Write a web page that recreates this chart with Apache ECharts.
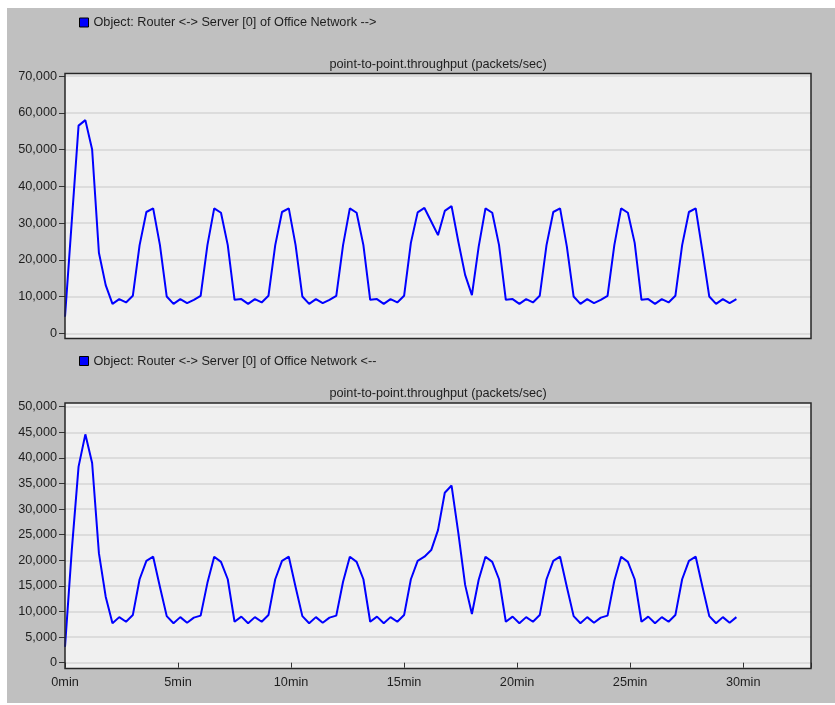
<!DOCTYPE html>
<html>
<head>
<meta charset="utf-8">
<title>point-to-point.throughput</title>
<script src="https://cdn.jsdelivr.net/npm/echarts@6/dist/echarts.min.js"></script>
<style>
  html, body { margin: 0; padding: 0; background: #fff; }
  #chart { width: 835px; height: 705px; }
</style>
</head>
<body>
<div id="chart"></div>
<script>
// sample times (minutes), one sample every 18 s
const timesMin = [
  0, 0.3, 0.6, 0.9, 1.2, 1.5, 1.8, 2.1, 2.4, 2.7,
  3, 3.3, 3.6, 3.9, 4.2, 4.5, 4.8, 5.1, 5.4, 5.7,
  6, 6.3, 6.6, 6.9, 7.2, 7.5, 7.8, 8.1, 8.4, 8.7,
  9, 9.3, 9.6, 9.9, 10.2, 10.5, 10.8, 11.1, 11.4, 11.7,
  12, 12.3, 12.6, 12.9, 13.2, 13.5, 13.8, 14.1, 14.4, 14.7,
  15, 15.3, 15.6, 15.9, 16.2, 16.5, 16.8, 17.1, 17.4, 17.7,
  18, 18.3, 18.6, 18.9, 19.2, 19.5, 19.8, 20.1, 20.4, 20.7,
  21, 21.3, 21.6, 21.9, 22.2, 22.5, 22.8, 23.1, 23.4, 23.7,
  24, 24.3, 24.6, 24.9, 25.2, 25.5, 25.8, 26.1, 26.4, 26.7,
  27, 27.3, 27.6, 27.9, 28.2, 28.5, 28.8, 29.1, 29.4, 29.7
];

// Router -> Server (packets/sec)
const outboundValues = [
  4500, 30500, 56500, 58000, 50000, 21900, 13100, 8000, 9300, 8400,
  10200, 24000, 33000, 34000, 24000, 10000, 8000, 9300, 8200, 9100,
  10200, 24000, 34000, 32800, 24000, 9100, 9300, 8000, 9300, 8400,
  10200, 24000, 33000, 34000, 24000, 10000, 8000, 9300, 8200, 9100,
  10200, 24000, 34000, 32800, 24000, 9100, 9300, 8000, 9300, 8400,
  10200, 24600, 32900, 34100, 30400, 26700, 33300, 34600, 24900, 15900,
  10400, 23600, 34000, 32800, 24000, 9100, 9300, 8000, 9300, 8400,
  10200, 24000, 33000, 34000, 23600, 10000, 8000, 9300, 8200, 9100,
  10200, 24000, 34000, 32800, 24600, 9100, 9300, 8000, 9300, 8400,
  10200, 24000, 33000, 34000, 22200, 10000, 8000, 9300, 8200, 9300
];

// Server -> Router (packets/sec)
const inboundValues = [
  3100, 22000, 38300, 44600, 39000, 21400, 12900, 7700, 8900, 8000,
  9300, 16300, 19900, 20700, 14800, 9100, 7700, 8900, 7800, 8800,
  9200, 15600, 20700, 19700, 16300, 8000, 9000, 7700, 8900, 8000,
  9300, 16300, 19900, 20700, 14800, 9100, 7700, 8900, 7800, 8800,
  9200, 15800, 20700, 19700, 16300, 8000, 9000, 7700, 8900, 8000,
  9300, 16300, 19900, 20700, 22000, 25900, 33200, 34600, 25300, 15200,
  9500, 16200, 20700, 19700, 16300, 8000, 9000, 7700, 8900, 8000,
  9300, 16300, 19900, 20700, 14800, 9100, 7700, 8900, 7800, 8800,
  9200, 16000, 20700, 19700, 16300, 8000, 9000, 7700, 8900, 8000,
  9300, 16300, 19900, 20700, 14800, 9100, 7700, 8900, 7800, 8900
];

const outboundName = 'Object: Router <-> Server [0] of Office Network -->';
const inboundName = 'Object: Router <-> Server [0] of Office Network <--';
const statTitle = 'point-to-point.throughput (packets/sec)';

const FONT = '"Liberation Sans", Arial, sans-serif';
const FONT_SIZE = 12.7;
const TEXT_COLOR = '#1e1e1e';

let chart = echarts.init(document.getElementById('chart'), null, { renderer: 'canvas' });

function pairs(vals) {
    return timesMin.map((t, i) => [t, vals[i]]);
}

function yAxisFor(gridIndex, max, interval) {
    return {
        type: 'value',
        gridIndex: gridIndex,
        min: 0,
        max: max,
        interval: interval,
        axisLine: { show: false },
        axisTick: { show: true, length: 6, lineStyle: { color: '#333', width: 1 } },
        axisLabel: {
            margin: 8,
            color: TEXT_COLOR,
            fontFamily: FONT,
            fontSize: FONT_SIZE,
            formatter: v => v.toLocaleString('en-US')
        },
        splitLine: { show: true, lineStyle: { color: '#d6d6d6', width: 1.5 } }
    }
}

// frame + background of each plot panel
function panel(y, h) {
    return [
        { type: 'rect', z: -1, silent: true,
          shape: { x: 65, y: y, width: 746, height: h },
          style: { fill: '#f0f0f0' } },
        { type: 'rect', z: 100, silent: true,
          shape: { x: 65, y: y, width: 746, height: h },
          style: { fill: 'none', stroke: '#262626', lineWidth: 1.5 } }
    ]
}

function legendAt(name, top) {
    return {
        data: [name], left: 79, top: top, padding: 0,
        itemWidth: 9, itemHeight: 9, selectedMode: false,
        icon: 'rect',
        itemStyle: { borderColor: '#000', borderWidth: 1 },
        textStyle: { color: TEXT_COLOR, fontFamily: FONT, fontSize: FONT_SIZE }
    }
}

let option = {
    backgroundColor: '#ffffff',
    animation: false,
    graphic: [
        { type: 'rect', z: -2, silent: true,
          shape: { x: 7, y: 8, width: 828, height: 695 },
          style: { fill: '#c0c0c0' } },
        ...panel(73.5, 265),
        ...panel(403, 265.5),
        { type: 'text', silent: true, x: 438, y: 64.5,
          style: { text: statTitle, align: 'center', verticalAlign: 'middle',
                   fill: TEXT_COLOR, font: FONT_SIZE + 'px ' + FONT } },
        { type: 'text', silent: true, x: 438, y: 393.5,
          style: { text: statTitle, align: 'center', verticalAlign: 'middle',
                   fill: TEXT_COLOR, font: FONT_SIZE + 'px ' + FONT } }
    ],
    legend: [
        legendAt(outboundName, 16),
        legendAt(inboundName, 354.5)
    ],
    grid: [
        { left: 65, right: 24, top: 76, height: 257.3 },
        { left: 65, right: 24, top: 406.7, height: 256 }
    ],
    xAxis: [
        { type: 'value', gridIndex: 0, min: 0, max: 33, interval: 5, show: false },
        {
            type: 'value', gridIndex: 1, min: 0, max: 33, interval: 5,
            offset: 6,
            axisLine: { show: false },
            axisTick: { show: true, length: 5, lineStyle: { color: '#333' } },
            axisLabel: {
                margin: 7,
                color: TEXT_COLOR,
                fontFamily: FONT,
                fontSize: FONT_SIZE,
                formatter: v => (v % 5 === 0 ? v + 'min' : '')
            },
            splitLine: { show: false }
        }
    ],
    yAxis: [
        yAxisFor(0, 70000, 10000),
        yAxisFor(1, 50000, 5000)
    ],
    series: [
        {
            name: outboundName,
            type: 'line',
            xAxisIndex: 0, yAxisIndex: 0,
            showSymbol: false,
            color: '#0000ff',
            lineStyle: { color: '#0000ff', width: 2 },
            data: pairs(outboundValues)
        },
        {
            name: inboundName,
            type: 'line',
            xAxisIndex: 1, yAxisIndex: 1,
            showSymbol: false,
            color: '#0000ff',
            lineStyle: { color: '#0000ff', width: 2 },
            data: pairs(inboundValues)
        }
    ]
}

chart.setOption(option)
</script>
</body>
</html>
